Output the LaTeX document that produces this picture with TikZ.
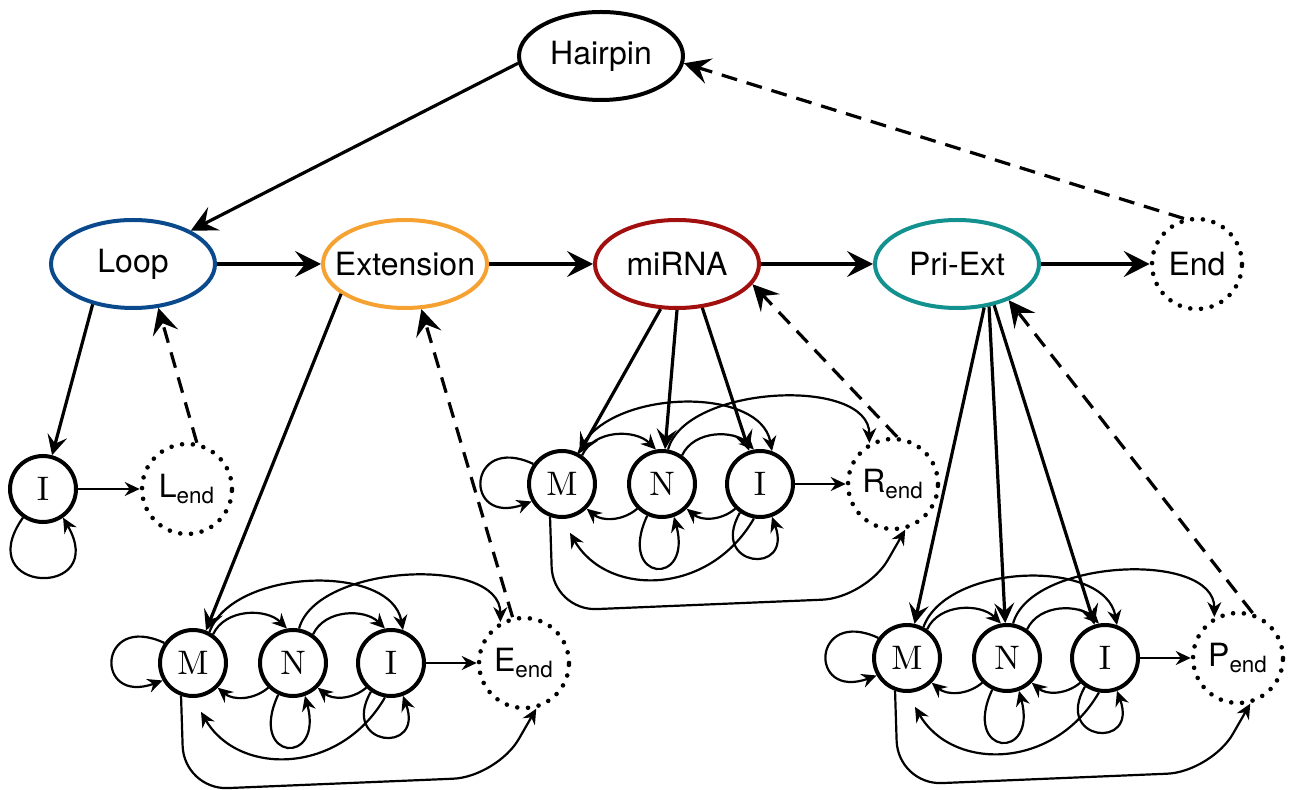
\documentclass[tikz,border=0pt]{standalone}
\usepackage{fontspec}
\setsansfont{TeX Gyre Heros}
\newfontfamily\mnifont{lmroman10-regular.otf}
\usetikzlibrary{arrows.meta,shapes.geometric}

\definecolor{loopblue}{HTML}{0A4A8C}
\definecolor{extorange}{HTML}{F5A233}
\definecolor{mired}{HTML}{A10F0F}
\definecolor{priteal}{HTML}{12918F}

\begin{document}
\begin{tikzpicture}[x=0.5pt,y=0.5pt,
  phase/.style={ellipse,draw,line width=2pt,minimum width=82pt,minimum height=44pt,
    inner xsep=-10pt,inner ysep=0pt,font=\sffamily\fontsize{16}{18}\selectfont},
  emit/.style={circle,draw,line width=2pt,minimum size=33pt,inner sep=0pt,
    font=\mnifont\fontsize{17}{18}\selectfont},
  final/.style={circle,draw,line width=2.3pt,dash pattern=on 0pt off 5.4pt,line cap=round,
    minimum size=45pt,inner sep=0pt,font=\sffamily\fontsize{16}{18}\selectfont},
  main/.style={line width=1.6pt,-{Stealth[length=13pt,width=13pt,inset=5pt]}},
  back/.style={main,dash pattern=on 8pt off 5pt},
  down/.style={line width=1.6pt,-{Stealth[length=10pt,width=10pt,inset=4pt]}},
  arc/.style={line width=1.1pt,-{Stealth[length=7.5pt,width=7pt,inset=2.5pt]}}]

  \useasboundingbox (0,0) rectangle (1289,-790);

  % top level
  \node[phase]                                               (hp)  at (601,-56)  {Hairpin};
  \node[phase,draw=loopblue]                                 (lp)  at (133,-264) {Loop};
  \node[phase,draw=extorange,node distance=136pt,right of=lp]  (ext) {Extension};
  \node[phase,draw=mired,node distance=136pt,right of=ext]     (mi)  {miRNA};
  \node[phase,draw=priteal,node distance=140pt,right of=mi]    (pri) {Pri-Ext};
  \node[final,node distance=120pt,right of=pri]                (fin) {End};

  \path[main] (hp.185) edge (lp.30)
              (lp)     edge (ext)
              (ext)    edge (mi)
              (mi)     edge (pri)
              (pri)    edge (fin);
  \path[back] (fin.106) edge (hp.355);

  % loop part
  \node[emit]                                 (lI) at (43,-489) {I};
  \node[final,node distance=72pt,right of=lI] (lE) {L\textsubscript{end}};

  \path[arc] (lI.235) edge[out=235,in=300,looseness=6] (lI.305)
             (lI)     edge (lE);
  \path[down] (lp.225) edge (lI);
  \path[back] (lE.78) edge (lp.300);

  % match parts
  \foreach \p/\x/\y/\lab in {e/193/663/E, r/562/484/R, p/907/658/P} {
    \node[emit]                                   (\p M) at (\x,-\y) {M};
    \node[emit,node distance=50pt,right of=\p M]  (\p N) {N};
    \node[emit,node distance=49pt,right of=\p N]  (\p I) {I};
    \node[final,node distance=66.5pt,right of=\p I] (\p E) {\lab\textsubscript{end}};

    \path[arc] (\p M.145) edge[out=155,in=200,looseness=5]   (\p M.210)
               (\p M.55)  edge[out=65,in=135]                (\p N.100)
               (\p N.55)  edge[out=65,in=135]                (\p I.100)
               (\p M.62)  edge[out=70,in=100,looseness=0.9]  (\p I.70)
               (\p N.80)  edge[out=75,in=90,looseness=0.85]  (\p E.120)
               (\p N.225) edge[bend left=40]                 (\p M.315)
               (\p I.225) edge[bend left=40]                 (\p N.315)
               (\p N.245) edge[out=245,in=285,looseness=7]   (\p N.290)
               (\p I.235) edge[out=240,in=290,looseness=5]   (\p I.290)
               (\p I.260) edge[out=240,in=300,looseness=1.2,shorten >=8pt] (\p M.270)
               (\p I)     edge                               (\p E);
    \draw[arc,rounded corners=22pt] (\p M.250) -- ++(3,-94) -- ++(313,13) -- (\p E.285);
  }

  \path[down] (ext.205) edge (eM)
              (mi.250)  edge (rM)
              (mi.270)  edge (rN)
              (mi.300)  edge (rI)
              (pri.302) edge (pM)
              (pri.307) edge (pN)
              (pri.312) edge (pI);
  \path[back] (eE.104) edge (ext.290)
              (rE.85)  edge (mi.345)
              (pE.72)  edge (pri.325);
\end{tikzpicture}
\end{document}
